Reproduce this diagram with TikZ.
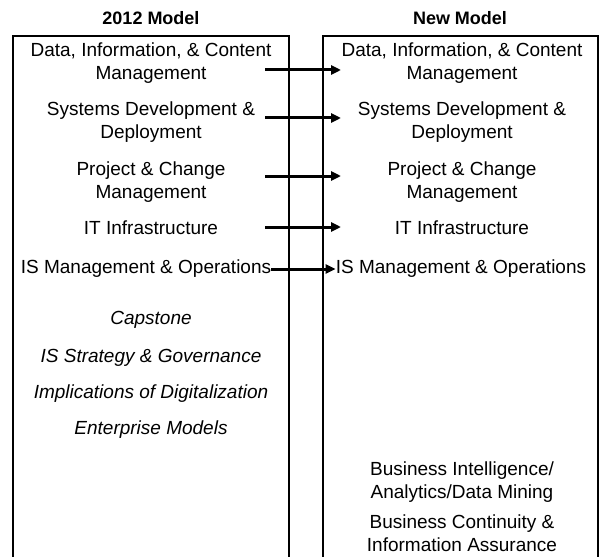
\documentclass[tikz,border=0pt]{standalone}
\usepackage{fontspec}
\setmainfont{Liberation Sans}
\usetikzlibrary{arrows.meta}
\begin{document}
\begin{tikzpicture}[x=1pt,y=-1pt,
  txt/.style={font=\fontsize{19}{23}\selectfont, align=center, inner sep=0pt},
  itxt/.style={txt, font=\fontsize{19}{23}\selectfont\itshape},
  ttl/.style={font=\fontsize{18}{22}\selectfont\bfseries, inner sep=0pt},
  frame/.style={line width=2.5pt, line join=miter},
  conn/.style={line width=3pt, -{Triangle[length=10pt,width=9pt]}}]
\useasboundingbox (0,0) rectangle (601,556);
% titles
\node[ttl] (t1) at (151,18) {2012 Model};
\node[ttl] (t2) at (460,18) {New Model};
% frames
\draw[frame] (13,560) -- (13,36) -- (289,36) -- (289,560);
\draw[frame] (323,560) -- (323,36) -- (598,36) -- (598,560);
% left column
\node[txt] (l1) at (151,63) {Data, Information, \& Content\\Management};
\node[txt] (l2) at (151,122) {Systems Development \&\\Deployment};
\node[txt] (l3) at (151,182) {Project \& Change\\Management};
\node[txt] (l4) at (151,228) {IT Infrastructure};
\node[txt] (l5) at (146,269) {IS Management \& Operations};
\node[itxt] (c1) at (151,320) {Capstone};
\node[itxt] (c2) at (151,358) {IS Strategy \& Governance};
\node[itxt] (c3) at (151,394) {Implications of Digitalization};
\node[itxt] (c4) at (151,430) {Enterprise Models};
% right column
\node[txt] (r1) at (462,63) {Data, Information, \& Content\\Management};
\node[txt] (r2) at (462,122) {Systems Development \&\\Deployment};
\node[txt] (r3) at (462,182) {Project \& Change\\Management};
\node[txt] (r4) at (462,228) {IT Infrastructure};
\node[txt] (r5) at (461,269) {IS Management \& Operations};
\node[txt] (r6) at (462,482) {Business Intelligence/\\Analytics/Data Mining};
\node[txt] (r7) at (462,533) {Business Continuity \&\\Information Assurance};
% connector ends
\coordinate (a1s) at (265,70);  \coordinate (a1e) at (341,70);
\coordinate (a2s) at (265,118); \coordinate (a2e) at (341,118);
\coordinate (a3s) at (265,176); \coordinate (a3e) at (341,176);
\coordinate (a4s) at (265,227); \coordinate (a4e) at (341,227);
\draw[conn] (a1s) -- (a1e);
\draw[conn] (a2s) -- (a2e);
\draw[conn] (a3s) -- (a3e);
\draw[conn] (a4s) -- (a4e);
\draw[conn] (l5.east) -- (r5.west);
\end{tikzpicture}
\end{document}
